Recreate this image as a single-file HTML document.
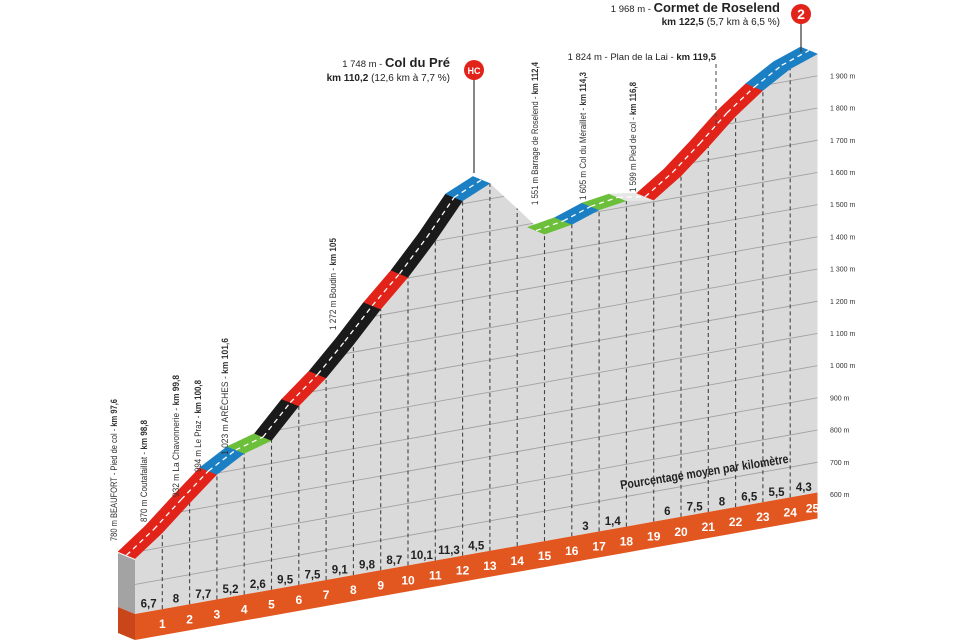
<!DOCTYPE html>
<html><head><meta charset="utf-8"><style>
html,body{margin:0;padding:0;background:#fff;}
svg{display:block;font-family:"Liberation Sans Narrow","Liberation Sans",sans-serif;}
</style></head><body>
<svg id="s" width="960" height="640" viewBox="0 0 960 640" xmlns="http://www.w3.org/2000/svg">
<defs><clipPath id="wc"><polygon id="wcp" points=""/></clipPath></defs>
<g id="g"></g>
<g font-size="9.5" fill="#333">
<text transform="translate(117,541) rotate(-90)" textLength="142" lengthAdjust="spacingAndGlyphs">780 m BEAUFORT - Pied de col - <tspan font-weight="bold">km 97,6</tspan></text>
<text transform="translate(147,522) rotate(-90)" textLength="102" lengthAdjust="spacingAndGlyphs">870 m Coutafaillat - <tspan font-weight="bold">km 98,8</tspan></text>
<text transform="translate(179,497) rotate(-90)" textLength="122" lengthAdjust="spacingAndGlyphs">932 m La Chavonnerie - <tspan font-weight="bold">km 99,8</tspan></text>
<text transform="translate(201,472) rotate(-90)" textLength="92" lengthAdjust="spacingAndGlyphs">994 m Le Praz - <tspan font-weight="bold">km 100,8</tspan></text>
<text transform="translate(228,455) rotate(-90)" textLength="117" lengthAdjust="spacingAndGlyphs">1 023 m ARÊCHES - <tspan font-weight="bold">km 101,6</tspan></text>
<text transform="translate(336,330) rotate(-90)" textLength="92" lengthAdjust="spacingAndGlyphs">1 272 m Boudin - <tspan font-weight="bold">km 105</tspan></text>
<text transform="translate(538,205) rotate(-90)" textLength="143" lengthAdjust="spacingAndGlyphs">1 551 m Barrage de Roselend - <tspan font-weight="bold">km 112,4</tspan></text>
<text transform="translate(586,200) rotate(-90)" textLength="128" lengthAdjust="spacingAndGlyphs">1 605 m Col du Méraillet - <tspan font-weight="bold">km 114,3</tspan></text>
<text transform="translate(636,192) rotate(-90)" textLength="110" lengthAdjust="spacingAndGlyphs">1 599 m Pied de col - <tspan font-weight="bold">km 116,8</tspan></text>
</g>
<g fill="#222">
<text x="450" y="67" text-anchor="end" font-size="10"><tspan font-size="9.5">1 748 m - </tspan><tspan font-family="Liberation Sans" font-weight="bold" font-size="13">Col du Pré</tspan></text>
<text x="450" y="81" text-anchor="end" font-size="10"><tspan font-weight="bold">km 110,2</tspan> (12,6 km à 7,7 %)</text>
<text x="716" y="60" text-anchor="end" font-size="9.5">1 824 m - Plan de la Lai - <tspan font-weight="bold">km 119,5</tspan></text>
<text x="780" y="12" text-anchor="end" font-size="10"><tspan font-size="9.5">1 968 m - </tspan><tspan font-family="Liberation Sans" font-weight="bold" font-size="13">Cormet de Roselend</tspan></text>
<text x="780" y="25" text-anchor="end" font-size="10"><tspan font-weight="bold">km 122,5</tspan> (5,7 km à 6,5 %)</text>
</g>
<line x1="716" y1="64" x2="716" y2="128" stroke="#444" stroke-dasharray="4,3"/>
<line x1="474" y1="72" x2="474" y2="173" stroke="#444" stroke-width="1.3"/>
<line x1="801" y1="16" x2="801" y2="52" stroke="#444" stroke-width="1.3"/>
<circle cx="474" cy="70" r="10" fill="#e2231a"/>
<text x="474" y="74" text-anchor="middle" font-family="Liberation Sans" font-weight="bold" font-size="9" fill="#fff">HC</text>
<circle cx="801" cy="14" r="10" fill="#e2231a"/>
<text x="801" y="19" text-anchor="middle" font-family="Liberation Sans" font-weight="bold" font-size="14" fill="#fff">2</text>
<text transform="translate(705,476) rotate(-9)" text-anchor="middle" font-weight="bold" font-size="12.5" fill="#222" textLength="170" lengthAdjust="spacingAndGlyphs">Pourcentage moyen par kilomètre</text>
</svg>
<script>
(function(){
var NS="http://www.w3.org/2000/svg",g=document.getElementById("g");
var E=[780,845,922,996,1046,1071,1163,1235,1323,1418,1502,1600,1709,1748,1655,1560,1575,1605,1618,1605,1665,1740,1820,1885,1937,1968];
var C=["#e2231a","#e2231a","#e2231a","#1b7fc4","#6cbf3a","#1a1a1a","#e2231a","#1a1a1a","#1a1a1a","#e2231a","#1a1a1a","#1a1a1a","#1b7fc4",null,null,"#6cbf3a","#1b7fc4","#6cbf3a","#e6e6e6","#e2231a","#e2231a","#e2231a","#e2231a","#1b7fc4","#1b7fc4"];
var P=["6,7","8","7,7","5,2","2,6","9,5","7,5","9,1","9,8","8,7","10,1","11,3","4,5","","","","3","1,4","","6","7,5","8","6,5","5,5","4,3"];
function X(k){return 135+k*27.3;}
function Y(e,x){return 494-(e-600)*0.322+(820-x)*0.179;}
function B(x){return 614-(x-135)*0.178;}
function el(t,a,p){var n=document.createElementNS(NS,t);for(var i in a)n.setAttribute(i,a[i]);(p||g).appendChild(n);return n;}
var F=[];for(var k=0;k<=25;k++){var x=X(k);F.push([x,Y(E[k],x)]);}
var xr=F[25][0];
el("polygon",{points:"118,553 135,560 135,614 118,607",fill:"#a3a3a3"});
el("polygon",{points:"118,607 135,614 135,640 118,633",fill:"#c9461a"});
var pts=F.map(function(p){return p[0]+","+p[1];}).join(" ")+" "+xr+","+B(xr)+" 135,"+B(135);
el("polygon",{points:pts,fill:"#dadada"});
document.getElementById("wcp").setAttribute("points",pts);
var gc=el("g",{"clip-path":"url(#wc)"});
for(var e=700;e<=1900;e+=100){el("line",{x1:135,y1:Y(e,135),x2:xr,y2:Y(e,xr),stroke:"#a2a2a2","stroke-width":"0.9"},gc);}
for(k=1;k<25;k++){var x=F[k][0];el("line",{x1:x,y1:B(x),x2:x,y2:F[k][1],stroke:"#444","stroke-width":"1.1","stroke-dasharray":"4,3"});}
el("polygon",{points:"135,614 "+xr+","+B(xr)+" "+xr+","+(B(xr)+26)+" 135,640",fill:"#e2561f"});
var dx=-17,dy=-7;
for(k=0;k<25;k++){if(!C[k])continue;var a=F[k],b=F[k+1];
el("polygon",{points:a[0]+","+a[1]+" "+b[0]+","+b[1]+" "+(b[0]+dx)+","+(b[1]+dy)+" "+(a[0]+dx)+","+(a[1]+dy),fill:C[k],stroke:C[k],"stroke-width":"0.5"});}
for(k=0;k<25;k++){if(!C[k])continue;var a=F[k],b=F[k+1];
el("line",{x1:a[0]+dx/2,y1:a[1]+dy/2,x2:b[0]+dx/2,y2:b[1]+dy/2,stroke:"#fff","stroke-width":"1.3","stroke-dasharray":"5,4"});}
for(k=0;k<25;k++){if(!P[k])continue;var xc=X(k+0.5);var t=el("text",{x:xc,y:B(xc)-4,"text-anchor":"middle","font-size":"11.5","font-weight":"bold",fill:"#222"});t.textContent=P[k];}
for(k=1;k<=25;k++){var x=(k==25)?xr-5:X(k);var t=el("text",{x:x,y:B(x)+19,"text-anchor":"middle","font-size":"12","font-weight":"bold",fill:"#fff"});t.textContent=k;}
for(e=600;e<=1900;e+=100){var t=el("text",{x:830,y:Y(e,820)+3,"font-size":"7",fill:"#333"});t.textContent=(e>=1000?("1 "+String(e).slice(1)):e)+" m";}
})();
</script>
</body></html>
